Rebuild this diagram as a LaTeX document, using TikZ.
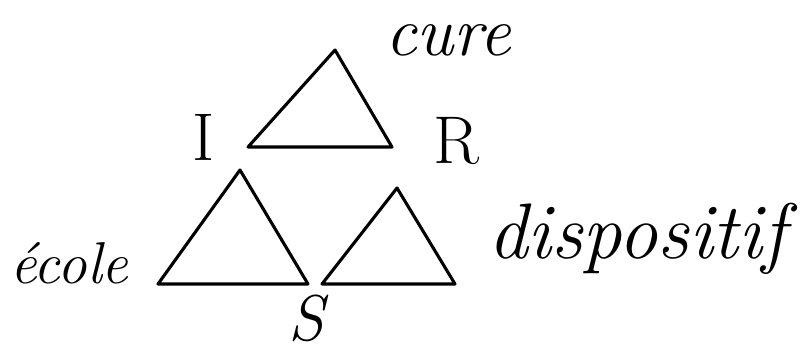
\documentclass[tikz,border=0pt]{standalone}
\begin{document}
\begin{tikzpicture}[
		x=0.025cm, y=-0.025cm,
		line join=round,
		line cap=round,
		tri/.style={line width=2.2pt},
		word/.style={inner sep=0pt, anchor=base west, font=\fontsize{#1}{#1}\selectfont\itshape},
		letter/.style={inner sep=0pt, anchor=base west, font=\fontsize{48}{48}\selectfont}
		]
		
		% Cadre
		\useasboundingbox (0,0) rectangle (802,351);
		
		% Sommets
		\coordinate (T1) at (335,50);
		\coordinate (T2) at (248,147);
		\coordinate (T3) at (392,147);
		\coordinate (L1) at (240,170);
		\coordinate (L2) at (158,284);
		\coordinate (L3) at (308,284);
		\coordinate (D1) at (397,188);
		\coordinate (D2) at (322,284);
		\coordinate (D3) at (455,284);
		
		% Triangles
		\draw[tri] (T1)--(T2)--(T3)--cycle;
		\draw[tri] (L1)--(L2)--(L3)--cycle;
		\draw[tri] (D1)--(D2)--(D3)--cycle;
		
		% Lettres
		\node[letter] (I) at (192,160) {I};
		\node[letter] (R) at (433,163) {R};
		\node[letter, font=\fontsize{46}{46}\selectfont\itshape] (S) at (288,340) {S};
		
		% Mots
		\node[word=50] (cure) at (385,55) {cure};
		\node[word=42] (ecole) at (10,283) {école};
		\node[word=56] (dispositif) at (488,258) {dispositif};
		
	\end{tikzpicture}
\end{document}
